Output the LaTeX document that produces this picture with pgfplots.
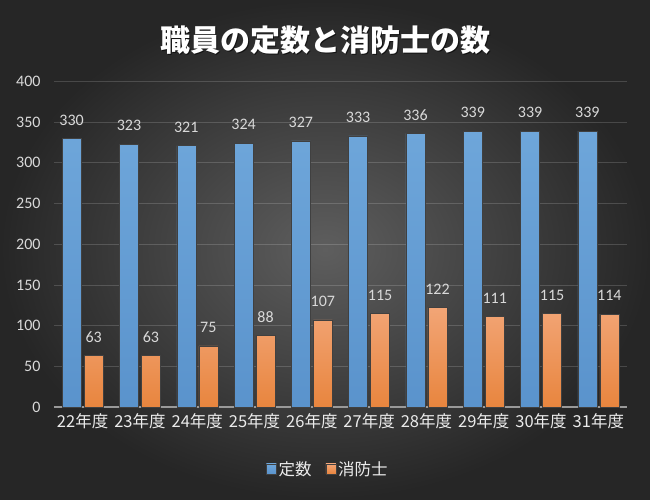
\documentclass[border=0pt]{standalone}
\usepackage{pgfplots}
\pgfplotsset{compat=1.18}
\usepackage{fontspec}
\setmainfont{Noto Sans CJK JP}
\newfontfamily\carl{Carlito}

\definecolor{bgin}{HTML}{5E5E5E}
\definecolor{bgout}{HTML}{262626}
\definecolor{bluetop}{HTML}{6EA6DA}
\definecolor{bluebot}{HTML}{5A93CC}
\definecolor{orgtop}{HTML}{F2A576}
\definecolor{orgbot}{HTML}{E8853E}
\definecolor{lbl}{HTML}{D9D9D9}

\begin{document}
\begin{tikzpicture}
\shade[inner color=bgin, outer color=bgout] (0,0) rectangle (650pt,499pt);
\node[text=black, opacity=0.6, font=\bfseries\fontsize{30}{30}\selectfont] at (326.5pt,457.5pt) {職員の定数と消防士の数};
\node[text=white, font=\bfseries\fontsize{30}{30}\selectfont] at (325pt,459pt) {職員の定数と消防士の数};
\begin{axis}[
  at={(54pt,92pt)}, anchor=south west,
  scale only axis, width=573pt, height=325.6pt,
  ybar, bar width=19pt,
  xmin=-0.5, xmax=9.5, ymin=0, ymax=400,
  ytick={0,50,...,400},
  xtick=data,
  xticklabels={22年度,23年度,24年度,25年度,26年度,27年度,28年度,29年度,30年度,31年度},
  axis x line*=bottom, axis y line*=left,
  x axis line style={draw=white!60!black, line width=1.5pt},
  y axis line style={draw=none},
  major tick length=0pt,
  ymajorgrids,
  major grid style={white, opacity=0.16, line width=0.8pt},
  /pgf/number format/assume math mode=true,
  yticklabel style={font=\carl\fontsize{16}{16}\selectfont, text=lbl, xshift=-10pt},
  xticklabel style={font=\fontsize{16.5}{16.5}\selectfont, text=white!92!black, yshift=-3pt},
  nodes near coords,
  every node near coord/.append style={font=\carl\fontsize{16}{16}\selectfont, text=lbl, anchor=south, inner sep=0pt, yshift=13pt},
  legend columns=2,
  legend style={at={(0.478,-0.19)}, anchor=center, draw=none, fill=none,
    font=\fontsize{16.5}{16.5}\selectfont, text=white!92!black,
    /tikz/every even column/.append style={column sep=12pt}},
  legend image code/.code={\fill[#1] (0pt,-5pt) rectangle (10pt,5pt);},
]
\addplot[bar shift=-11pt, top color=bluetop, bottom color=bluebot, draw=black!75, line width=0.5pt]
coordinates {(0,330) (1,323) (2,321) (3,324) (4,327) (5,333) (6,336) (7,339) (8,339) (9,339)};
\addlegendentry{定数}
\addplot[bar shift=11pt, top color=orgtop, bottom color=orgbot, draw=black!75, line width=0.5pt]
coordinates {(0,63) (1,63) (2,75) (3,88) (4,107) (5,115) (6,122) (7,111) (8,115) (9,114)};
\addlegendentry{消防士}
\end{axis}
\end{tikzpicture}
\end{document}
